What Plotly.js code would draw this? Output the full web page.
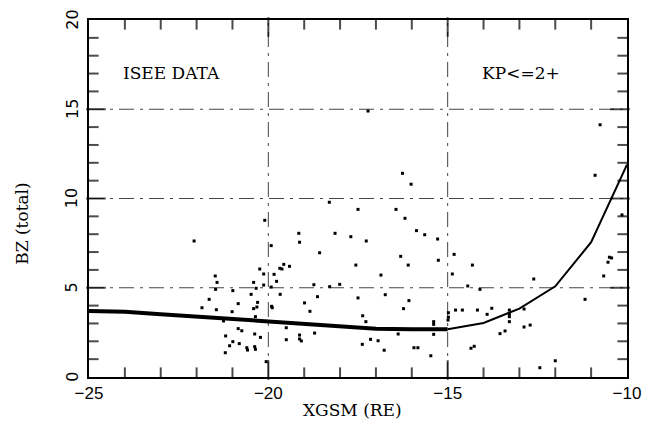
<!DOCTYPE html>
<html>
<head>
<meta charset="utf-8">
<script src="https://cdn.plot.ly/plotly-3.0.1.min.js"></script>
<style>html,body{margin:0;padding:0;background:#fff;}#chart{width:658px;height:424px;}</style>
</head>
<body>
<div id="chart"></div>
<script>
// Scatter data (ISEE measurements)
const pointX = [-22.07,-19.15,-19.13,-19.92,-18.57,-21.48,-21.43,-21.47,-20.24,-20.13,-19.68,-19.62,-19.57,-19.41,-19.84,-19.77,-20.41,-20.13,-20.34,-19.92,-20.99,-21.65,-20.48,-19.67,-18.73,-18.63,-21.85,-21.45,-20.84,-20.30,-20.32,-20.41,-19.91,-19.89,-21.01,-18.99,-18.84,-20.36,-21.25,-19.50,-20.84,-20.74,-21.19,-20.38,-20.22,-19.13,-19.13,-19.08,-18.71,-19.50,-20.99,-21.08,-20.81,-21.20,-20.60,-20.58,-20.38,-20.36,-20.06,-18.30,-20.10,-17.50,-17.56,-17.50,-18.14,-17.70,-18.01,-18.29,-17.22,-16.26,-16.02,-16.44,-16.19,-15.87,-15.64,-15.28,-17.27,-14.82,-16.31,-15.26,-14.31,-16.10,-16.86,-14.87,-14.44,-16.74,-16.08,-16.23,-14.78,-14.59,-14.98,-14.98,-17.37,-17.28,-15.39,-15.39,-16.38,-15.39,-17.15,-16.94,-17.38,-16.77,-15.94,-15.83,-15.47,-14.26,-14.35,-12.60,-14.17,-13.77,-13.90,-13.28,-13.28,-13.28,-13.28,-14.99,-12.87,-12.70,-13.54,-13.40,-12.43,-12.00,-11.17,-10.65,-10.53,-10.49,-10.43,-10.14,-10.75,-10.89,-14.10,-12.87];
const pointY = [7.62,8.05,7.55,7.36,6.96,5.66,5.30,4.91,6.05,5.77,6.09,6.05,6.31,6.20,5.75,5.36,5.30,5.15,4.97,5.04,4.84,4.35,4.63,4.63,5.17,4.50,3.88,3.77,4.11,4.18,3.92,3.83,3.96,3.88,3.66,4.15,3.68,3.38,3.14,2.76,2.71,2.59,2.30,2.41,2.22,2.35,2.13,2.02,2.46,2.09,1.98,1.75,1.87,1.36,1.64,1.51,1.70,1.55,0.86,9.79,8.78,9.39,6.27,4.43,8.05,7.86,5.19,5.06,14.90,11.41,10.80,9.39,8.89,8.20,7.97,7.73,7.62,6.87,6.76,6.54,6.27,6.27,5.71,5.77,5.10,4.61,4.28,3.83,3.75,3.75,3.60,3.35,3.43,3.10,3.10,2.95,2.41,2.39,2.11,2.03,1.83,1.50,1.64,1.64,1.19,1.72,1.61,5.49,3.75,3.85,3.51,3.75,3.53,3.38,3.10,3.19,2.80,2.91,2.43,2.58,0.52,0.91,4.35,5.66,6.43,6.71,6.67,9.08,14.13,11.30,4.91,3.81];

// Average curve: thick part and thin part
const thickX = [-25,-24,-23,-22,-21,-20,-19,-18,-17,-16,-15];
const thickY = [3.70,3.65,3.52,3.38,3.25,3.10,2.97,2.83,2.71,2.68,2.68];
const thinX = [-15,-14,-13,-12,-11,-10];
const thinY = [2.68,3.03,3.83,5.08,7.55,11.9];

// Axis settings
const xRange = [-25, -10];
const yRange = [0, 20];
const xMajor = [-25, -20, -15, -10];
const yMajor = [0, 5, 10, 15, 20];
const minorStep = 1;
const xTitle = 'XGSM (RE)';
const yTitle = 'BZ (total)';
const labelLeft = 'ISEE DATA';
const labelRight = 'KP&lt;=2+';

// Geometry
const W = 658, H = 424, M = {l: 89, r: 31, t: 20, b: 47};
const pxPerX = (W - M.l - M.r) / (xRange[1] - xRange[0]);
const pxPerY = (H - M.t - M.b) / (yRange[1] - yRange[0]);
const MAJOR_LEN = 14, MINOR_LEN = 8;

// Inside ticks on all four sides, built from the axis ranges
const xtX = [], xtY = [], xtS = [];
for (let v = xRange[0] + minorStep; v < xRange[1]; v += minorStep) {
  const len = xMajor.includes(v) ? MAJOR_LEN : MINOR_LEN;
  const off = len / 2 / pxPerY;
  xtX.push(v, v); xtY.push(yRange[0] + off, yRange[1] - off); xtS.push(len, len);
}
const ytX = [], ytY = [], ytS = [];
for (let v = yRange[0] + minorStep; v < yRange[1]; v += minorStep) {
  const len = yMajor.includes(v) ? MAJOR_LEN : MINOR_LEN;
  const off = len / 2 / pxPerX;
  ytY.push(v, v); ytX.push(xRange[0] + off, xRange[1] - off); ytS.push(len, len);
}

const traces = [
  {x: pointX, y: pointY, type: 'scatter', mode: 'markers',
   marker: {symbol: 'square', size: 3, color: '#000'}, hoverinfo: 'skip'},
  {x: thickX, y: thickY, type: 'scatter', mode: 'lines',
   line: {color: '#000', width: 4}, hoverinfo: 'skip'},
  {x: thinX, y: thinY, type: 'scatter', mode: 'lines',
   line: {color: '#000', width: 2}, hoverinfo: 'skip'},
  {x: xtX, y: xtY, type: 'scatter', mode: 'markers', hoverinfo: 'skip', cliponaxis: false,
   marker: {symbol: 'line-ns', size: xtS, color: '#000', line: {color: '#000', width: 2}}},
  {x: ytX, y: ytY, type: 'scatter', mode: 'markers', hoverinfo: 'skip', cliponaxis: false,
   marker: {symbol: 'line-ew', size: ytS, color: '#000', line: {color: '#000', width: 2}}}
];

const tickFont = {family: 'Liberation Sans, Arial, sans-serif', size: 17, color: '#000'};
const yLabFont = {family: 'DejaVu Sans', size: 16, color: '#000'};
const serif = {family: 'DejaVu Serif, serif', size: 17, color: '#000'};

// Dash-dot gridlines at the inner major tick values
const shapes = [];
const inner = (arr) => arr.filter((v, i) => i > 0 && i < arr.length - 1);
inner(xMajor).forEach(v => shapes.push({type: 'line', xref: 'x', yref: 'paper', x0: v, x1: v, y0: 0, y1: 1,
  layer: 'below', line: {color: '#444', width: 1, dash: 'longdashdot'}}));
inner(yMajor).forEach(v => shapes.push({type: 'line', xref: 'paper', yref: 'y', x0: 0, x1: 1, y0: v, y1: v,
  layer: 'below', line: {color: '#444', width: 1, dash: 'longdashdot'}}));

const annotations = [
  {x: -22.70, y: 17.03, xref: 'x', yref: 'y', text: labelLeft, showarrow: false, font: serif},
  {x: -12.96, y: 17.03, xref: 'x', yref: 'y', text: labelRight, showarrow: false, font: serif},
  {x: 0.49, y: -0.092, xref: 'paper', yref: 'paper', text: xTitle, showarrow: false, font: serif,
   xanchor: 'center', yanchor: 'middle'},
  {x: -0.124, y: 0.43, xref: 'paper', yref: 'paper', text: yTitle, showarrow: false, font: serif,
   textangle: -90, xanchor: 'center', yanchor: 'middle'}
];
// rotated y tick labels
yMajor.forEach(v => annotations.push({x: -0.032, y: v, xref: 'paper', yref: 'y', text: String(v),
  showarrow: false, font: yLabFont, textangle: -90, xanchor: 'center', yanchor: 'middle'}));

const layout = {
  width: W, height: H,
  margin: M,
  paper_bgcolor: '#fff', plot_bgcolor: 'rgba(0,0,0,0)',
  showlegend: false,
  hovermode: false,
  xaxis: {range: xRange, tickmode: 'array', tickvals: xMajor, ticks: '', showgrid: false, zeroline: false,
          showline: true, linecolor: '#000', linewidth: 2, mirror: true, tickfont: tickFont, fixedrange: true},
  yaxis: {range: yRange, tickmode: 'array', tickvals: yMajor, ticks: '', showgrid: false, zeroline: false,
          showticklabels: false, showline: true, linecolor: '#000', linewidth: 2, mirror: true, fixedrange: true},
  shapes: shapes,
  annotations: annotations
};

Plotly.newPlot('chart', traces, layout, {displayModeBar: false});
</script>
</body>
</html>
